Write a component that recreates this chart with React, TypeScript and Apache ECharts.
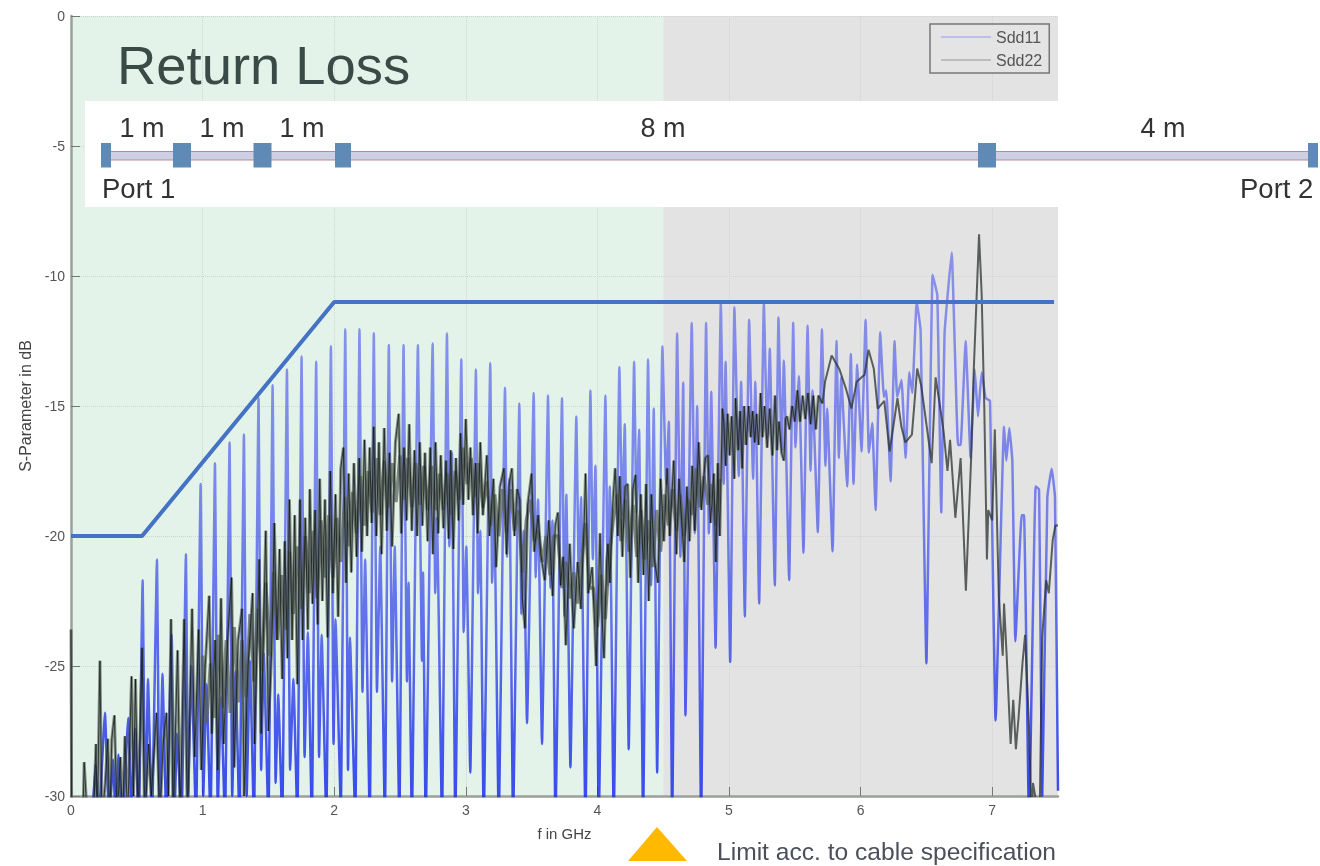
import React, { useEffect, useRef } from "react";
import * as echarts from "echarts";

const FONT = "Liberation Sans";

// Sdd11 as [f in GHz, dB]; values under -30 are clipped by the axis
const sdd11: number[][] = [
  [0.16,-31],[0.185,-28.8],[0.21,-31],[0.258,-26.8],[0.29,-31],[0.32,-28.6],[0.34,-31],[0.36,-28.4],[0.39,-31],[0.435,-27],[0.46,-30.5],[0.486,-27.4],[0.515,-31],
  [0.544,-21.7],[0.565,-31],[0.585,-25.5],[0.615,-31],
  [0.653,-20.9],[0.672,-31],[0.695,-25.3],[0.725,-31],
  [0.765,-23.8],[0.785,-31],[0.805,-27.6],[0.84,-31],
  [0.873,-20.7],[0.89,-30],[0.915,-25],[0.95,-31],
  [0.985,-18],[1.005,-30],[1.03,-25.7],[1.06,-31],
  [1.094,-17.2],[1.115,-30.5],[1.14,-26.2],[1.17,-31],
  [1.205,-16.4],[1.225,-30],[1.25,-25.2],[1.28,-31],
  [1.314,-16.1],[1.335,-30],[1.36,-24.8],[1.39,-31],
  [1.425,-14.7],[1.445,-29],[1.465,-24.5],[1.5,-31],
  [1.532,-14.2],[1.555,-29.5],[1.575,-26.1],[1.605,-31],
  [1.641,-13.6],[1.665,-29],[1.69,-25.5],[1.72,-31],
  [1.752,-13.1],[1.775,-28.5],[1.8,-23.7],[1.83,-31],
  [1.863,-13.3],[1.885,-28.5],[1.905,-23.8],[1.94,-31],
  [1.975,-12.7],[1.995,-28],[2.01,-23.2],[2.05,-30.5],
  [2.084,-12.05],[2.105,-29],[2.12,-23.9],[2.16,-31],
  [2.192,-12.05],[2.215,-26],[2.235,-20.9],[2.27,-31],
  [2.301,-12.2],[2.325,-26],[2.35,-20.4],[2.385,-31],
  [2.415,-12.65],[2.44,-25.6],[2.46,-20.4],[2.495,-31],
  [2.527,-12.65],[2.553,-25.6],[2.565,-21.8],[2.59,-31],
  [2.636,-12.65],[2.667,-24.8],[2.675,-21.4],[2.695,-31],
  [2.748,-12.6],[2.768,-22.2],[2.781,-19.3],[2.819,-31],
  [2.857,-12.2],[2.875,-20.4],[2.895,-16.8],[2.92,-31],
  [2.966,-13.2],[2.984,-23.7],[3.004,-20.4],[3.034,-29.1],
  [3.077,-13.6],[3.093,-22.2],[3.11,-19.8],[3.136,-31],
  [3.186,-13.35],[3.2,-21.8],[3.217,-19.25],[3.25,-31],
  [3.298,-14.3],[3.313,-20.8],[3.331,-17.8],[3.359,-31],
  [3.407,-14.9],[3.422,-23],[3.44,-19.8],[3.465,-27.2],
  [3.516,-14.5],[3.531,-21.6],[3.549,-18.6],[3.579,-28],
  [3.625,-14.6],[3.643,-22],[3.658,-19.4],[3.681,-31],
  [3.731,-14.7],[3.749,-23.1],[3.764,-18.4],[3.795,-28.9],
  [3.84,-15.4],[3.858,-21.4],[3.876,-18.5],[3.909,-31],
  [3.947,-14.4],[3.965,-20.9],[3.985,-17.3],[4.01,-31],
  [4.061,-14.6],[4.079,-21.9],[4.094,-18.1],[4.124,-31],
  [4.167,-13.5],[4.188,-19.2],[4.208,-15.7],[4.238,-28.2],
  [4.279,-13.3],[4.297,-19.1],[4.317,-15.9],[4.347,-31],
  [4.385,-13.2],[4.408,-21.9],[4.428,-15.1],[4.454,-29.1],
  [4.494,-12.7],[4.522,-18],[4.543,-15.6],[4.568,-31],
  [4.606,-12.2],[4.631,-20.8],[4.652,-14.1],[4.669,-26.9],
  [4.717,-11.8],[4.74,-19.9],[4.758,-15],[4.788,-31],
  [4.826,-11.8],[4.847,-19.9],[4.865,-14.45],[4.898,-24.3],
  [4.938,-11.05],[4.96,-18],[4.974,-13.3],[5.009,-24.85],
  [5.041,-11.2],[5.074,-17.7],[5.092,-14.07],[5.12,-23.1],
  [5.153,-11.68],[5.183,-17.8],[5.2,-14.07],[5.229,-22.6],
  [5.265,-11.06],[5.29,-16.2],[5.31,-12.8],[5.348,-21.9],
  [5.376,-11.6],[5.399,-16.7],[5.417,-13.25],[5.457,-21.7],
  [5.488,-11.8],[5.505,-16.6],[5.531,-13.85],[5.566,-20.65],
  [5.597,-11.9],[5.62,-17.5],[5.635,-14.4],[5.675,-19.86],
  [5.706,-12.05],[5.733,-17.3],[5.746,-15.1],[5.787,-20.6],
  [5.817,-12.5],[5.835,-17],[5.853,-13.9],[5.898,-18.1],
  [5.926,-13],[5.946,-18],[5.974,-13.4],[6.007,-16.75],
  [6.038,-11.68],[6.063,-16.8],[6.088,-15.65],[6.114,-19],
  [6.149,-12.16],[6.177,-14.65],[6.195,-14.4],[6.228,-17.9],
  [6.258,-12.5],[6.278,-14.65],[6.311,-14],[6.342,-17],
  [6.37,-13.7],[6.393,-14.5],[6.426,-10.96],[6.456,-12.1],[6.5,-24.9],
  [6.547,-9.95],[6.583,-10.74],[6.613,-19.1],[6.638,-12.2],[6.692,-9.1],[6.74,-16.5],[6.76,-16.5],[6.798,-12.5],
  [6.836,-17],[6.867,-13.6],[6.892,-15.4],[6.92,-13.7],[6.95,-14.7],[6.983,-14.8],[7.026,-27.1],
  [7.09,-15.8],[7.107,-17.1],[7.13,-15.85],[7.153,-17.1],[7.176,-24.05],[7.224,-19.2],[7.242,-19.2],[7.28,-31],
  [7.33,-18.1],[7.356,-18.2],[7.38,-30],[7.419,-18.5],[7.452,-17.4],[7.477,-18.5],[7.5,-29.8],
];

// Sdd22 as [f in GHz, dB]: the dense noisy part, outer swings
const sdd22Band: number[][] = [
  [0,-23.6],[0.005,-31],[0.09,-31],[0.1,-28.7],[0.125,-31],[0.17,-31],[0.19,-28],[0.2,-31],[0.22,-24.8],[0.235,-31],[0.26,-29.5],[0.28,-27.8],[0.295,-31],[0.31,-27.8],[0.33,-26.9],[0.35,-31],[0.375,-28.5],[0.39,-31],[0.41,-27.7],[0.43,-31],[0.46,-25.4],[0.475,-30],[0.49,-25.5],[0.51,-31],[0.54,-24.3],[0.56,-31],[0.59,-28],[0.61,-30],[0.65,-26.8],[0.675,-31],[0.7,-28],[0.725,-26.8],[0.74,-30],[0.76,-23.2],[0.775,-31],[0.81,-24.4],[0.83,-31],[0.86,-23.2],[0.875,-28],[0.885,-31],[0.92,-22.8],[0.94,-28.5],[0.97,-23.6],[0.99,-29],[1.02,-25],[1.05,-22.3],[1.07,-27.6],[1.095,-24],[1.115,-29],[1.14,-22.4],[1.16,-28],[1.19,-24],[1.22,-21.6],[1.24,-28.9],[1.27,-24],[1.3,-22.8],[1.315,-30],[1.345,-25],[1.38,-22.2],[1.395,-28],[1.43,-20.9],[1.445,-27.6],[1.48,-19.8],[1.5,-27.5],
  [1.525,-24.4],[1.545,-19.5],[1.565,-24],[1.585,-20.5],[1.605,-25.5],[1.625,-20.2],[1.645,-24.7],[1.66,-18.6],[1.68,-24],[1.7,-19.2],[1.72,-25.7],[1.74,-18.6],[1.76,-24],[1.78,-19.3],[1.8,-23.6],[1.815,-18.2],[1.835,-22.6],[1.855,-19],[1.875,-23.4],[1.89,-17.8],[1.91,-22.5],[1.93,-18.6],[1.95,-23.9],[1.97,-17.5],[1.99,-22.2],[2.01,-18.4],[2.03,-23.1],[2.05,-17.4],[2.07,-16.6],[2.09,-21.8],[2.11,-17.6],[2.13,-21.4],[2.15,-17.2],[2.17,-20.8],[2.19,-17],[2.21,-20.6],[2.23,-16.3],[2.25,-20],[2.27,-16.6],[2.285,-19.5],[2.3,-15.8],[2.32,-20],[2.34,-16.4],[2.36,-20.7],[2.38,-15.85],[2.4,-19.8],[2.42,-16.8],[2.44,-20.4],[2.465,-16.4],[2.49,-15.3],
  [2.51,-19.9],[2.53,-16.6],[2.55,-19.4],[2.57,-15.7],[2.59,-19.8],[2.61,-16.7],[2.63,-20],[2.65,-16.4],[2.67,-19.6],[2.69,-16.8],[2.71,-20.2],[2.73,-16.6],[2.75,-20.7],[2.77,-16.4],[2.79,-19.9],[2.81,-16.9],[2.83,-19.7],[2.85,-17.1],[2.87,-20.1],[2.885,-16.7],[2.905,-20.5],[2.925,-17],[2.945,-19.4],[2.96,-16.05],[2.98,-18.8],[3,-15.5],[3.02,-18.6],[3.035,-16.6],[3.055,-19.2],[3.075,-17.2],[3.09,-19.9],[3.11,-16.4],[3.13,-19.2],[3.16,-16.9],[3.18,-20],[3.21,-17.8],[3.23,-21.2],[3.26,-18.1],[3.29,-17.4],[3.31,-20.7],[3.33,-18],[3.35,-17.4],[3.37,-20],[3.39,-18.2],[3.41,-18.6],[3.43,-22.4],[3.45,-23.55],[3.47,-18.8],[3.5,-17.6],[3.52,-20.6],[3.55,-19.2],[3.57,-20.7],[3.6,-21.7],[3.63,-19.4],[3.66,-22.3],[3.68,-19.6],[3.7,-19.1],[3.72,-21.9],[3.74,-20.8],[3.76,-24.2],[3.79,-20.3],[3.81,-22.7],[3.82,-23.55],[3.85,-21],[3.875,-22.8],[3.9,-19.4],[3.91,-17.6],[3.93,-22.2],[3.96,-21.2],[3.98,-23.5],[3.99,-25],[4.01,-21.8],[4.02,-19.9],[4.035,-23],[4.05,-24.7],[4.07,-21],[4.08,-20.3],[4.095,-21.8],[4.115,-18.9],[4.135,-17.4],[4.155,-20],[4.17,-17.7],[4.19,-20.8],[4.21,-18.1],[4.23,-18],[4.25,-21.6],[4.27,-18.2],[4.29,-17.65],[4.31,-21.8],[4.33,-18.4],[4.35,-21.5],[4.37,-18],[4.39,-22.5],[4.41,-18.4],[4.43,-20.8],[4.46,-21.8],[4.48,-17.8],[4.505,-20.2],[4.53,-17.4],[4.55,-20],[4.58,-17.1],[4.6,-20.7],[4.62,-17.8],[4.64,-19.4],[4.66,-21],[4.68,-18.1],[4.7,-20.2],[4.72,-17.3],[4.74,-19.8],[4.77,-16.4],[4.79,-19],[4.82,-17],[4.84,-16.9],[4.86,-19.5],[4.885,-17.6],[4.9,-21],[4.915,-17.2],[4.93,-20],[4.95,-15.1],
  [4.96,-15.6],[4.975,-17.3],[4.99,-15.3],[5.005,-16.9],[5.02,-15.4],[5.04,-17.8],[5.05,-14.7],[5.07,-16.7],[5.085,-15.2],[5.1,-17.4],[5.115,-15],[5.13,-16.5],[5.15,-15],[5.165,-16.2],[5.18,-15.2],[5.195,-16.4],[5.21,-15.3],[5.225,-16.5],[5.24,-14.5],[5.255,-16.2],[5.27,-15],[5.29,-16.6],[5.31,-15.1],[5.33,-16.9],[5.35,-14.6],[5.365,-16.7],[5.38,-15.6],[5.4,-16.8],[5.417,-17.1],[5.43,-15.5],[5.44,-15.4],[5.46,-15.9],[5.48,-15],[5.5,-15.6],[5.52,-14.4],[5.54,-15.6],[5.56,-14.6],[5.58,-15.5],[5.6,-14.5],[5.62,-15.7],[5.64,-14.6],[5.66,-15.9],[5.68,-14.6],[5.71,-14.9],
];

// Sdd22: the inner swings of the same noisy band, which fill its middle
const sdd22Inner: number[][] = [
  [1,-24.6],[1.03,-27.2],[1.06,-24.9],[1.09,-27],[1.12,-23.8],[1.15,-26.6],[1.18,-24],[1.21,-26.8],[1.24,-23.5],[1.27,-26.4],[1.3,-24],[1.33,-26.2],[1.36,-23],[1.39,-25.6],[1.42,-22.8],[1.45,-25.2],[1.48,-21.8],[1.51,-24.6],[1.54,-21.4],[1.57,-24],[1.6,-21.5],[1.63,-23.6],[1.66,-20.6],[1.69,-23],[1.72,-20.4],[1.75,-22.8],[1.78,-20],[1.81,-22.2],[1.84,-19.8],[1.87,-22.4],[1.9,-19.4],[1.93,-21.6],[1.96,-19.2],[1.99,-21.6],
  [2.02,-19.3],[2.05,-21],[2.08,-18.5],[2.11,-20.4],[2.14,-18.3],[2.17,-19.9],[2.2,-17.7],[2.23,-19.6],[2.26,-17.5],[2.29,-19.1],[2.32,-17],[2.35,-19.2],[2.38,-17.1],[2.41,-18.9],[2.44,-17.2],[2.47,-18.7],[2.5,-16.9],[2.53,-18.6],[2.56,-17],[2.59,-18.9],[2.62,-17.2],[2.65,-18.8],[2.68,-17.3],[2.71,-19],[2.74,-17.3],[2.77,-19],[2.8,-17.6],[2.83,-19],[2.86,-17.6],[2.89,-19.2],[2.92,-17.5],[2.95,-18.6],[2.98,-16.6],
  [3.01,-18],[3.04,-17],[3.07,-18.5],[3.1,-17.2],[3.13,-18.9],[3.16,-17.9],[3.19,-19.6],[3.22,-18.4],[3.25,-20],[3.28,-18.2],[3.31,-19.9],[3.34,-18.2],[3.37,-19.8],[3.4,-19],[3.43,-21.4],[3.46,-19.4],[3.49,-18.6],[3.52,-20.2],[3.55,-19.8],[3.58,-21],[3.61,-20],[3.64,-21.5],[3.67,-20],[3.7,-20],[3.73,-22],[3.76,-21],[3.79,-22.4],[3.82,-21.4],[3.85,-22.6],[3.88,-21],[3.91,-19.5],[3.94,-22],[3.97,-22],
  [4,-23.5],[4.03,-21.5],[4.06,-23.2],[4.09,-20.8],[4.12,-19.4],[4.15,-18.4],[4.18,-20.2],[4.21,-18.6],[4.24,-20.6],[4.27,-18.8],[4.3,-20.8],[4.33,-19],[4.36,-20.9],[4.39,-19.4],[4.42,-21.2],[4.45,-19],[4.48,-20.6],[4.51,-18.4],[4.54,-19.6],[4.57,-18.2],[4.6,-19.8],[4.63,-18.4],[4.66,-20],[4.69,-18.6],[4.72,-19.2],[4.75,-17.4],[4.78,-18.9],[4.81,-17.7],[4.84,-18.8],[4.87,-18],[4.9,-19.6],[4.93,-17.8],
];

// Sdd22: the cleaner part above 5.7 GHz
const sdd22Tail: number[][] = [
  [5.71,-14.9],[5.73,-14.07],[5.78,-13.06],[5.84,-13.6],[5.89,-14.36],[5.93,-15.1],[5.97,-14.07],[6.03,-13.8],[6.06,-12.84],[6.1,-13.56],[6.13,-15.1],[6.18,-14.8],[6.22,-16.75],[6.25,-15.74],[6.28,-14.7],[6.31,-15.8],[6.34,-16.4],[6.39,-16.1],[6.43,-13.56],[6.46,-14.2],[6.5,-15.7],[6.54,-17.2],[6.57,-13.9],[6.6,-14.9],[6.63,-15.95],[6.66,-17.5],[6.68,-16.3],[6.72,-19.3],[6.76,-17],[6.8,-22.1],[6.84,-17],[6.86,-13.6],[6.9,-8.4],[6.92,-10.7],[6.94,-15.1],[6.96,-20.9],[6.97,-19],[7,-19.4],[7.02,-15.9],[7.05,-22.3],[7.08,-24.6],[7.09,-22.6],[7.11,-24.6],[7.14,-28],[7.16,-26.3],[7.18,-28.2],[7.2,-27],[7.23,-24.9],[7.25,-23.8],[7.28,-27.4],[7.3,-31],[7.31,-29.5],[7.36,-31],[7.38,-23.9],[7.41,-21.7],[7.43,-22.2],[7.46,-20.15],[7.48,-19.6],[7.5,-19.6],
];

const limitLine: number[][] = [[0,-20],[0.54,-20],[2,-11],[7.47,-11]];
const zoneSplit = 4.5;

const yTicks = { min: -30, max: 0, step: 5 };
const xTicks = { min: 0, max: 7.5, step: 1 };
const segmentLabels = [["1 m",142],["1 m",222],["1 m",302],["8 m",663],["4 m",1163]] as [string, number][];
const connectors = [[101,10],[173,18],[253.5,18],[335,16],[978,18],[1308,10]];

function text(t: string, x: number, y: number, fontSize: number, fill: string, textAlign = "left") {
  return { type: "text", z: 20, style: { text: t, x, y, fontSize, fill, fontFamily: FONT, textAlign, textVerticalAlign: "middle" } };
}

export default function App() {
  const ref = useRef<HTMLDivElement>(null);
  useEffect(() => {
    const chart = echarts.init(ref.current!, undefined, { renderer: "svg" });
    chart.setOption({
      animation: false,
      backgroundColor: "#ffffff",
      grid: { left: 71, right: 262, top: 16, bottom: 70 },
      xAxis: {
        type: "value", min: xTicks.min, max: xTicks.max, interval: xTicks.step, z: 1.5,
        name: "f in GHz", nameLocation: "middle", nameGap: 30,
        nameTextStyle: { fontFamily: FONT, fontSize: 15, color: "#444" },
        axisLine: { show: true, onZero: false, lineStyle: { color: "#9aa09a", width: 2.5 } },
        axisTick: { inside: true, length: 9, lineStyle: { color: "#777" } },
        axisLabel: { showMaxLabel: false, margin: 7, fontFamily: FONT, fontSize: 14, color: "#555" },
        splitLine: { show: true, showMaxLine: false, lineStyle: { color: "#cfd5d0", type: "dotted" } },
      },
      yAxis: {
        type: "value", min: yTicks.min, max: yTicks.max, interval: yTicks.step, z: 1.5,
        name: "S-Parameter in dB", nameLocation: "middle", nameGap: 38, nameRotate: 90,
        nameTextStyle: { fontFamily: FONT, fontSize: 16, color: "#444" },
        axisLine: { show: true, onZero: false, lineStyle: { color: "#9aa09a", width: 2.5 } },
        axisTick: { inside: true, length: 9, lineStyle: { color: "#777" } },
        axisLabel: { margin: 6, fontFamily: FONT, fontSize: 14, color: "#555" },
        splitLine: { show: true, lineStyle: { color: "#cfd5d0", type: "dotted" } },
      },
      legend: {
        data: [
          { name: "Sdd11", itemStyle: { opacity: 0 }, lineStyle: { color: "#b0b0f0", width: 1.5, opacity: 1 } },
          { name: "Sdd22", itemStyle: { opacity: 0 }, lineStyle: { color: "#bdbdbd", width: 2, opacity: 1 } },
        ],
        orient: "vertical", left: 930, top: 24, z: 15,
        itemWidth: 50, itemHeight: 14, itemGap: 7,
        padding: [5, 7, 5, 10],
        backgroundColor: "#e4e4e4", borderColor: "#777", borderWidth: 1.5,
        textStyle: { fontFamily: FONT, fontSize: 16, color: "#555" },
      },
      series: [
        {
          name: "Sdd11", type: "line", z: 2, data: sdd11, symbol: "none", smooth: 0.1, clip: true,
          lineStyle: {
            width: 2.5,
            color: new echarts.graphic.LinearGradient(0, 0, 0, 1, [
              { offset: 0, color: "rgba(80,90,235,0.6)" },
              { offset: 0.45, color: "rgba(60,75,235,0.65)" },
              { offset: 1, color: "rgba(20,40,235,0.85)" },
            ]),
          },
          markArea: {
            silent: true, z: 1,
            data: [
              [{ xAxis: xTicks.min, itemStyle: { color: "#e3f3e9" } }, { xAxis: zoneSplit }],
              [{ xAxis: zoneSplit, itemStyle: { color: "#e3e3e3" } }, { xAxis: xTicks.max }],
            ],
          },
        },
        {
          name: "Sdd22", type: "line", z: 3, data: sdd22Inner, symbol: "none", clip: true,
          lineStyle: { color: "#56605a", width: 3.4, opacity: 0.72 },
        },
        {
          name: "Sdd22", type: "line", z: 3, data: sdd22Band, symbol: "none", clip: true,
          lineStyle: { color: "#4a544e", width: 3, opacity: 0.62 },
        },
        {
          name: "Sdd22", type: "line", z: 3, data: sdd22Band, symbol: "none", clip: true,
          lineStyle: { color: "#0c120f", width: 1, opacity: 0.7 },
        },
        {
          name: "Sdd22", type: "line", z: 3, data: sdd22Tail, symbol: "none", clip: true,
          lineStyle: { color: "#2a322d", width: 2, opacity: 0.75 },
        },
        {
          name: "Limit", type: "line", z: 4, data: limitLine, symbol: "none", clip: true,
          lineStyle: { color: "#4472c4", width: 4 },
        },
      ],
      graphic: [
        { type: "rect", z: 10, shape: { x: 85, y: 101, width: 1235, height: 106 }, style: { fill: "#ffffff" } },
        { type: "rect", z: 11, shape: { x: 105, y: 151.5, width: 1208, height: 8.5 }, style: { fill: "#ccd0e2", stroke: "#b58aa0", lineWidth: 1 } },
        ...connectors.map(([x, w]) => ({
          type: "rect", z: 12, shape: { x, y: 143, width: w, height: 24.5 }, style: { fill: "#5f8ab5" },
        })),
        ...segmentLabels.map(([t, x]) => text(t, x, 128, 27, "#333333", "center")),
        text("Port 1", 102, 188, 27.5, "#333333"),
        text("Port 2", 1240, 188, 27.5, "#333333"),
        text("Return Loss", 117, 65, 54.4, "#3a4a46"),
        { type: "polygon", z: 20, shape: { points: [[628, 861], [657, 827], [687, 861]] }, style: { fill: "#ffb900" } },
        text("Limit acc. to cable specification", 717, 851, 24.6, "#4a4f5a"),
      ],
    });
    return () => chart.dispose();
  }, []);
  return (
    <div
      ref={ref}
      style={{ position: "absolute", left: 0, top: 0, width: 1320, height: 866, filter: "blur(0.6px)" }}
    />
  );
}
